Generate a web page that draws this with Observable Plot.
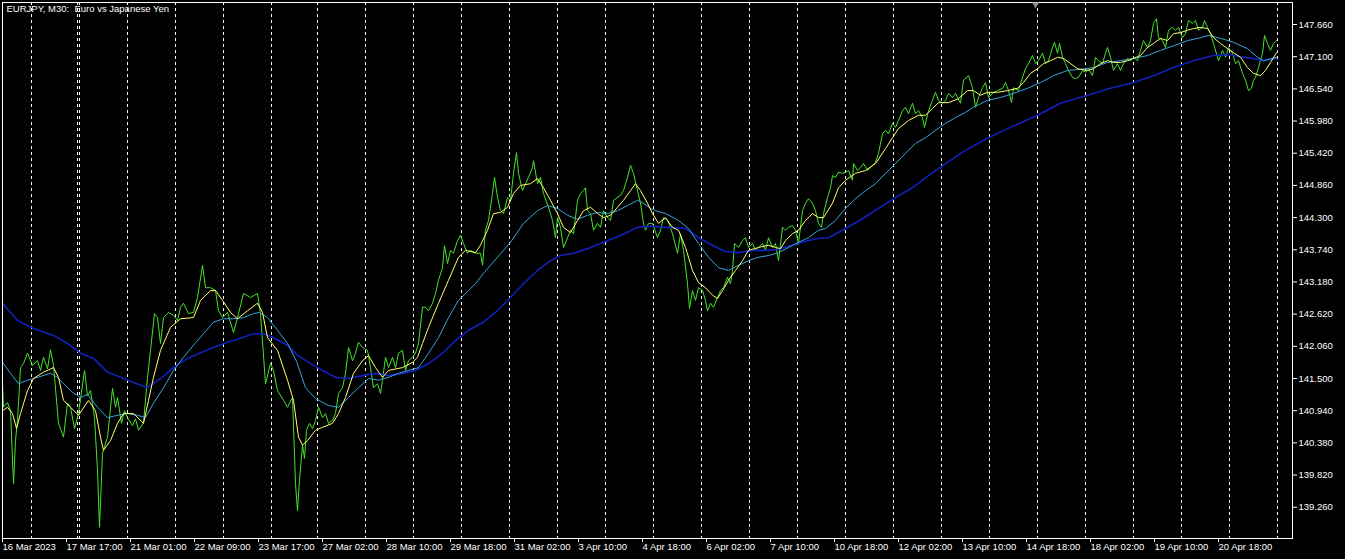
<!DOCTYPE html>
<html>
<head>
<meta charset="utf-8">
<script src="https://cdn.jsdelivr.net/npm/d3@7"></script>
<script src="https://cdn.jsdelivr.net/npm/@observablehq/plot@0.6"></script>
<style>
  html, body { margin: 0; padding: 0; background: #000; }
  #chart { width: 1345px; height: 559px; overflow: hidden; }
</style>
</head>
<body>
<div id="chart"></div>
<script>
// ---- Data (bar index on the M30 time axis, price) ----
const chartTitle = "EURJPY, M30:\u00a0 Euro vs Japanese Yen";

const priceClose = [[1,141.41],[2,141.00],[6,141.08],[9,140.94],[12,139.67],[14,140.42],[16,140.77],[19,141.69],[22,141.76],[26,141.94],[31,141.73],[36,141.81],[39,141.64],[42,141.87],[46,141.67],[49,142.00],[52,141.73],[57,140.72],[62,140.48],[66,141.07],[69,141.00],[73,140.63],[77,140.89],[83,141.64],[86,141.20],[89,141.29],[93,140.82],[96,139.90],[98,138.91],[101,140.20],[106,140.48],[111,141.33],[114,141.00],[116,141.17],[120,140.72],[123,140.94],[126,140.82],[131,140.68],[134,140.80],[137,140.60],[142,140.73],[146,141.52],[149,141.99],[153,142.63],[156,142.56],[159,142.11],[162,142.56],[167,142.65],[172,142.60],[176,142.51],[179,142.74],[182,142.81],[187,142.63],[192,142.65],[196,142.91],[201,143.47],[204,143.08],[209,143.08],[214,143.03],[217,142.68],[221,142.56],[226,142.65],[232,142.30],[236,142.56],[242,142.98],[249,142.91],[256,142.98],[259,142.63],[264,141.41],[269,141.76],[272,141.64],[276,141.29],[282,141.12],[286,141.00],[291,141.17],[294,139.67],[296,139.20],[298,139.73],[301,140.34],[303,140.11],[305,140.60],[308,140.72],[311,140.63],[314,140.77],[317,141.00],[321,140.82],[324,140.89],[327,140.72],[331,140.77],[334,140.89],[337,141.24],[341,141.34],[344,141.59],[347,142.04],[351,141.81],[354,141.94],[357,142.13],[361,142.04],[366,141.99],[369,141.69],[372,141.34],[376,141.41],[379,141.24],[381,141.47],[384,141.87],[387,141.69],[391,141.87],[394,141.69],[397,141.94],[401,141.99],[404,141.64],[407,141.81],[411,141.87],[414,141.94],[417,142.11],[421,142.74],[424,142.74],[427,142.68],[431,142.81],[434,142.98],[437,143.21],[441,143.43],[443,143.81],[446,143.50],[449,143.73],[452,143.68],[456,143.90],[459,143.99],[462,143.85],[466,143.68],[469,143.73],[474,143.68],[479,143.68],[481,143.47],[484,144.08],[487,144.25],[491,144.72],[493,145.00],[496,144.65],[499,144.42],[502,144.37],[506,144.65],[509,144.60],[512,145.07],[515,145.43],[517,145.07],[521,144.77],[524,144.89],[527,145.00],[531,145.17],[532,145.29],[536,144.89],[539,145.00],[542,144.72],[547,144.48],[551,144.25],[554,143.95],[556,144.30],[559,144.13],[562,143.78],[565,143.90],[569,144.08],[572,144.02],[576,144.60],[579,144.72],[582,144.77],[584,144.82],[586,144.42],[589,144.37],[592,144.08],[596,144.20],[599,144.13],[602,144.42],[606,144.30],[609,144.25],[612,144.60],[619,144.69],[622,144.77],[626,145.00],[629,145.21],[632,145.07],[636,144.77],[639,144.55],[642,144.20],[644,144.08],[647,144.20],[651,144.20],[656,143.95],[659,144.08],[662,144.30],[666,144.25],[669,144.13],[672,143.95],[676,143.68],[679,144.02],[682,143.73],[686,143.15],[688,142.72],[691,143.03],[694,142.86],[697,143.08],[701,143.03],[704,142.86],[706,142.68],[709,142.81],[712,142.74],[716,142.91],[719,143.03],[722,143.08],[726,143.26],[729,143.15],[731,143.38],[733,143.85],[737,143.78],[741,143.90],[744,143.95],[747,143.78],[751,143.85],[754,143.73],[757,143.78],[761,143.85],[764,143.73],[767,143.95],[771,143.78],[774,143.85],[777,143.55],[781,144.13],[784,144.08],[787,144.13],[791,144.16],[794,144.08],[797,143.85],[801,144.42],[804,144.55],[807,144.63],[811,144.55],[814,144.42],[817,144.20],[820,144.13],[822,144.37],[826,144.65],[829,144.82],[831,145.03],[834,145.00],[837,145.09],[841,145.07],[844,145.09],[847,145.12],[851,144.95],[852,145.24],[856,145.12],[859,145.17],[862,145.24],[866,145.12],[871,145.21],[874,145.26],[877,145.42],[881,145.76],[884,145.82],[887,145.76],[891,145.94],[894,145.87],[897,145.99],[901,146.16],[904,146.22],[907,146.11],[911,146.29],[914,146.11],[917,146.16],[921,146.04],[923,145.87],[927,146.16],[931,146.34],[934,146.48],[937,146.34],[941,146.29],[944,146.34],[947,146.46],[951,146.39],[954,146.46],[959,146.29],[962,146.69],[967,146.77],[971,146.56],[974,146.22],[977,146.39],[981,146.56],[984,146.65],[987,146.39],[991,146.46],[996,146.51],[1001,146.55],[1004,146.65],[1007,146.51],[1010,146.30],[1012,146.56],[1017,146.51],[1021,146.74],[1024,146.89],[1027,146.98],[1031,147.12],[1034,146.98],[1037,147.03],[1041,147.16],[1044,146.98],[1047,147.03],[1051,147.26],[1053,147.35],[1056,147.16],[1058,147.33],[1061,147.09],[1064,146.98],[1067,146.86],[1071,146.74],[1074,146.72],[1077,146.74],[1081,146.86],[1084,146.83],[1087,146.89],[1091,146.77],[1094,147.09],[1097,147.03],[1101,146.98],[1104,147.16],[1106,147.26],[1109,147.09],[1112,146.86],[1116,146.98],[1119,146.86],[1122,146.98],[1126,147.07],[1129,147.03],[1132,147.09],[1136,147.03],[1139,147.21],[1142,147.38],[1146,147.26],[1149,147.38],[1152,147.68],[1155,147.76],[1157,147.43],[1161,147.38],[1164,147.26],[1167,147.56],[1171,147.61],[1174,147.56],[1177,147.61],[1181,147.43],[1184,147.50],[1187,147.73],[1191,147.68],[1194,147.73],[1197,147.56],[1201,147.61],[1203,147.73],[1206,147.61],[1209,147.50],[1212,147.33],[1216,147.09],[1217,147.03],[1221,147.21],[1224,147.09],[1227,147.26],[1231,147.16],[1234,146.98],[1237,147.03],[1241,146.81],[1244,146.69],[1247,146.51],[1250,146.55],[1252,146.69],[1254,146.74],[1257,146.91],[1261,147.16],[1263,147.47],[1266,147.33],[1269,147.21],[1272,147.33],[1275,147.38]];

const maFast = [[1,140.94],[6,141.00],[11,140.89],[15,140.63],[19,140.89],[26,141.29],[32,141.50],[42,141.61],[52,141.69],[57,141.52],[62,141.12],[69,141.00],[77,140.86],[87,141.12],[94,140.94],[99,140.48],[102,140.25],[109,140.42],[116,140.72],[122,140.89],[132,140.89],[142,140.72],[147,141.12],[152,141.52],[159,141.99],[169,142.39],[179,142.54],[192,142.56],[199,142.86],[209,143.03],[214,143.03],[221,142.86],[229,142.65],[236,142.54],[246,142.68],[256,142.81],[261,142.65],[266,142.21],[276,141.99],[286,141.47],[292,141.12],[297,140.48],[301,140.34],[306,140.42],[314,140.60],[321,140.65],[331,140.72],[337,140.89],[344,141.17],[352,141.59],[361,141.81],[367,141.90],[374,141.69],[381,141.52],[387,141.64],[401,141.69],[411,141.78],[416,141.87],[421,142.11],[427,142.39],[437,142.81],[447,143.21],[457,143.61],[464,143.73],[474,143.69],[479,143.82],[486,144.08],[492,144.37],[499,144.39],[506,144.48],[512,144.72],[519,144.86],[529,144.89],[536,144.98],[542,144.82],[549,144.60],[556,144.37],[562,144.13],[569,144.04],[576,144.25],[582,144.42],[589,144.48],[596,144.37],[602,144.30],[609,144.34],[616,144.48],[622,144.60],[629,144.77],[634,144.89],[639,144.77],[646,144.55],[651,144.37],[657,144.20],[664,144.30],[671,144.13],[677,144.08],[684,143.78],[691,143.38],[697,143.17],[704,143.08],[711,142.95],[716,142.89],[721,143.03],[727,143.21],[734,143.38],[741,143.55],[747,143.73],[757,143.78],[767,143.82],[774,143.78],[779,143.76],[784,143.90],[791,144.02],[797,144.08],[804,144.25],[811,144.37],[817,144.30],[822,144.30],[831,144.55],[837,144.82],[844,144.95],[854,145.07],[864,145.12],[874,145.24],[884,145.50],[891,145.69],[897,145.85],[907,145.99],[917,146.08],[924,146.08],[931,146.20],[937,146.30],[947,146.30],[957,146.37],[966,146.51],[972,146.51],[979,146.43],[986,146.48],[996,146.48],[1006,146.51],[1016,146.55],[1022,146.65],[1029,146.81],[1036,146.89],[1042,146.98],[1049,147.03],[1056,147.09],[1062,147.07],[1069,146.98],[1076,146.89],[1086,146.86],[1092,146.89],[1099,146.98],[1106,147.03],[1112,147.00],[1119,147.00],[1126,147.03],[1132,147.07],[1139,147.12],[1146,147.26],[1152,147.33],[1159,147.42],[1166,147.38],[1172,147.50],[1179,147.52],[1186,147.56],[1192,147.59],[1199,147.61],[1206,147.59],[1212,147.43],[1219,147.33],[1226,147.24],[1232,147.17],[1239,147.09],[1246,146.91],[1252,146.81],[1259,146.77],[1264,146.86],[1269,147.00],[1275,147.17]];

const maMid = [[1,141.78],[9,141.59],[17,141.41],[26,141.47],[36,141.52],[49,141.59],[56,141.52],[62,141.41],[71,141.26],[79,141.17],[86,141.22],[96,141.00],[106,140.82],[116,140.86],[126,140.89],[136,140.86],[144,140.82],[152,141.07],[162,141.34],[172,141.64],[182,141.87],[192,142.08],[202,142.28],[212,142.48],[222,142.54],[232,142.54],[242,142.56],[252,142.63],[258,142.65],[266,142.56],[276,142.34],[286,142.11],[295,141.80],[304,141.34],[314,141.15],[327,141.03],[337,141.00],[347,141.17],[357,141.34],[367,141.50],[377,141.47],[387,141.52],[397,141.59],[407,141.64],[417,141.69],[427,141.94],[437,142.21],[447,142.56],[457,142.86],[467,143.03],[474,143.15],[482,143.33],[496,143.61],[509,143.87],[522,144.20],[536,144.42],[546,144.51],[556,144.46],[566,144.34],[576,144.27],[586,144.34],[596,144.39],[606,144.37],[616,144.42],[626,144.51],[636,144.60],[642,144.55],[649,144.46],[654,144.42],[664,144.37],[677,144.25],[687,144.11],[697,143.85],[707,143.61],[717,143.43],[727,143.38],[737,143.47],[747,143.55],[757,143.61],[767,143.64],[777,143.69],[787,143.78],[797,143.87],[807,143.95],[817,144.08],[824,144.11],[834,144.25],[844,144.46],[854,144.63],[864,144.77],[874,144.89],[884,145.07],[894,145.24],[904,145.42],[914,145.59],[924,145.69],[934,145.82],[944,145.94],[954,146.04],[964,146.13],[972,146.22],[986,146.34],[999,146.39],[1012,146.46],[1026,146.55],[1039,146.65],[1052,146.77],[1066,146.86],[1079,146.88],[1092,146.91],[1106,147.00],[1119,147.03],[1132,147.07],[1146,147.12],[1159,147.21],[1172,147.29],[1186,147.38],[1199,147.43],[1207,147.47],[1219,147.42],[1232,147.35],[1246,147.24],[1256,147.09],[1262,147.03],[1275,147.09]];

const maSlow = [[1,142.81],[16,142.51],[32,142.37],[52,142.25],[66,142.11],[79,141.94],[92,141.85],[106,141.61],[119,141.52],[132,141.43],[146,141.34],[159,141.50],[172,141.69],[186,141.85],[199,141.95],[212,142.04],[226,142.13],[239,142.20],[252,142.28],[262,142.28],[272,142.21],[286,142.08],[295,141.92],[307,141.78],[321,141.64],[334,141.52],[347,141.50],[361,141.55],[374,141.59],[387,141.55],[401,141.59],[414,141.64],[427,141.76],[441,141.94],[454,142.16],[467,142.34],[482,142.48],[496,142.68],[509,142.91],[522,143.15],[536,143.38],[549,143.55],[559,143.64],[572,143.68],[586,143.76],[602,143.87],[619,143.99],[636,144.13],[649,144.15],[664,144.13],[684,144.11],[697,143.95],[711,143.82],[724,143.71],[737,143.69],[751,143.73],[764,143.73],[777,143.75],[791,143.82],[804,143.89],[817,143.94],[827,143.95],[844,144.11],[861,144.28],[877,144.46],[894,144.65],[911,144.82],[927,145.03],[944,145.24],[964,145.47],[986,145.68],[1009,145.87],[1036,146.08],[1059,146.29],[1086,146.43],[1109,146.55],[1132,146.65],[1152,146.77],[1172,146.91],[1192,147.03],[1212,147.12],[1226,147.14],[1239,147.10],[1252,147.07],[1262,147.03],[1275,147.07]];

// Day separators (bar index of each new trading day)
const daySeparators = [30, 76, 78, 126, 174, 222, 270, 316, 364, 412, 460, 508, 556, 604, 652, 700, 748, 796, 844, 892, 940, 988, 1036, 1084, 1132, 1180, 1228, 1276];

// Time-axis labels (bar index and text)
const xTickBars = [0, 64, 128, 192, 256, 320, 384, 448, 512, 576, 640, 704, 768, 832, 896, 960, 1024, 1088, 1152, 1216];
const xTickLabels = ["16 Mar 2023", "17 Mar 17:00", "21 Mar 01:00", "22 Mar 09:00", "23 Mar 17:00", "27 Mar 02:00", "28 Mar 10:00", "29 Mar 18:00", "31 Mar 02:00", "3 Apr 10:00", "4 Apr 18:00", "6 Apr 02:00", "7 Apr 10:00", "10 Apr 18:00", "12 Apr 02:00", "13 Apr 10:00", "14 Apr 18:00", "18 Apr 02:00", "19 Apr 10:00", "20 Apr 18:00"];

// Price-axis ticks
const yTicks = [139.26, 139.82, 140.38, 140.94, 141.50, 142.06, 142.62, 143.18, 143.74, 144.30, 144.86, 145.42, 145.98, 146.54, 147.10, 147.66];

// Chart-shift marker bar
const shiftMarker = [1034];

// Visible ranges
const xDomain = [1, 1291];
const yDomain = [138.716, 148.043];

const colors = {price: "#44e42a", fast: "#ffff6e", mid: "#37a6dc", slow: "#1220bc"};

const chart = Plot.plot({
  width: 1345,
  height: 559,
  marginLeft: 2,
  marginRight: 53,
  marginTop: 2,
  marginBottom: 21,
  style: {background: "#000", color: "#fff", fontFamily: "'Liberation Sans', Arial, sans-serif", fontSize: "9.5px"},
  x: {domain: xDomain, axis: null},
  y: {domain: yDomain, axis: null},
  marks: [
    Plot.ruleX(daySeparators, {stroke: "#fff", strokeWidth: 1, strokeDasharray: "3,3"}),
    Plot.line(priceClose, {x: d => d[0], y: d => d[1], stroke: colors.price, strokeWidth: 1}),
    Plot.line(maSlow, {x: d => d[0], y: d => d[1], stroke: colors.slow, strokeWidth: 1.6}),
    Plot.line(maMid, {x: d => d[0], y: d => d[1], stroke: colors.mid, strokeWidth: 1}),
    Plot.line(maFast, {x: d => d[0], y: d => d[1], stroke: colors.fast, strokeWidth: 1}),
    Plot.frame({stroke: "#fff"}),
    Plot.dot(shiftMarker, {x: d => d, frameAnchor: "top", dy: 2, symbol: "triangle", r: 2.5, rotate: 180, fill: "#8a8a8a", stroke: null}),
    Plot.axisY({anchor: "right", ticks: yTicks, tickSize: 4, tickPadding: 2, tickFormat: d3.format(".3f"), label: null, stroke: "#fff", fill: "#fff"}),
    Plot.axisX({anchor: "bottom", ticks: xTickBars, tickSize: 4, tickPadding: 1, textAnchor: "start", dx: 1,
      tickFormat: d => xTickLabels[xTickBars.indexOf(d)], label: null, stroke: "#fff", fill: "#fff"}),
    Plot.text([chartTitle], {frameAnchor: "top-left", dx: 4, dy: 3, textAnchor: "start", lineAnchor: "top", fill: "#fff"})
  ]
});
document.getElementById("chart").appendChild(chart);
</script>
</body>
</html>
